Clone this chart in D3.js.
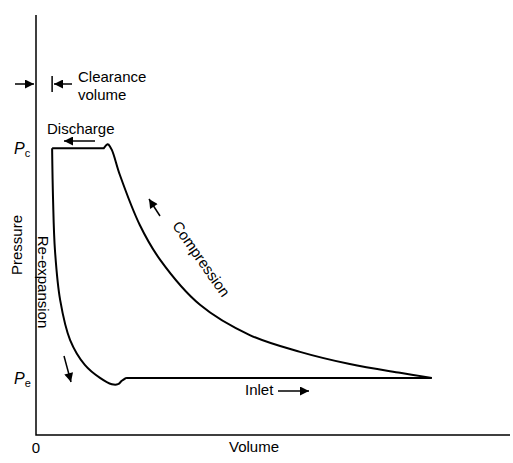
<!DOCTYPE html><html><head><meta charset="utf-8">
<script src="https://cdn.jsdelivr.net/npm/d3@7"></script>
<style>body{margin:0;background:#fff}text{font-family:"Liberation Sans",Arial,sans-serif;font-size:15px}</style></head><body>
<svg id="c" width="513" height="463"></svg>
<script>
const Pc = 68.3, Pe = 13.6, clearance = 3.4;
const discharge = [[3.4,68.3],[14.3,68.3],[14.8,69.0],[15.2,69.3]];
const compression = [[15.2,69.3],[16.0,67.9],[17.7,61.9],[21.9,50.0],[26.2,41.7],[34.6,31.0],[45.1,23.8],[55.7,19.8],[66.2,16.9],[76.8,14.8],[83.5,13.6]];
const reexpansion = [[3.4,68.3],[3.6,56.0],[4.0,44.0],[5.1,32.1],[7.2,22.6],[10.3,16.7],[13.5,13.6],[16.0,12.1],[17.3,12.1],[18.1,12.9],[19.0,13.6]];
const inlet = [[19.0,13.6],[83.5,13.6]];
const svg = d3.select("#c");
const x = d3.scaleLinear().domain([0,100]).range([36,510]);
const y = d3.scaleLinear().domain([0,100]).range([435,15]);
const defs = svg.append("defs");
defs.append("marker").attr("id","ah").attr("viewBox","0 0 10 10").attr("refX",10).attr("refY",5)
 .attr("markerWidth",12).attr("markerHeight",9).attr("markerUnits","userSpaceOnUse").attr("orient","auto")
 .append("path").attr("d","M0,0L10,5L0,10z").attr("fill","#000");
svg.append("path").attr("d",`M${x(0)},${y(100)}V${y(0)}H${x(100)}`).attr("fill","none").attr("stroke","#000").attr("stroke-width",1.5);
const line = d3.line().x(d=>x(d[0])).y(d=>y(d[1]));
const smooth = d3.line().x(d=>x(d[0])).y(d=>y(d[1])).curve(d3.curveCatmullRom);
svg.append("path").attr("d",line(discharge)).attr("fill","none").attr("stroke","#000").attr("stroke-width",2);
svg.append("path").attr("d",smooth(compression)).attr("fill","none").attr("stroke","#000").attr("stroke-width",2);
svg.append("path").attr("d",smooth(reexpansion)).attr("fill","none").attr("stroke","#000").attr("stroke-width",2);
svg.append("path").attr("d",line(inlet)).attr("fill","none").attr("stroke","#000").attr("stroke-width",2);
function arrow(x1,y1,x2,y2){svg.append("line").attr("x1",x1).attr("y1",y1).attr("x2",x2).attr("y2",y2).attr("stroke","#000").attr("stroke-width",1.5).attr("marker-end","url(#ah)");}
function P(sub,py){const t=svg.append("text").attr("x",14).attr("y",py).style("font-size","16px");
 t.append("tspan").attr("font-style","italic").text("P");t.append("tspan").attr("dy",3).style("font-size","11px").text(sub);}
P("c",y(Pc)+6);P("e",y(Pe)+6);
svg.append("text").attr("x",36).attr("y",453).attr("text-anchor","middle").text("0");
svg.append("text").attr("x",254).attr("y",452).attr("text-anchor","middle").text("Volume");
svg.append("text").attr("transform","translate(22,245) rotate(-90)").attr("text-anchor","middle").text("Pressure");
arrow(15,84,34,84);
svg.append("line").attr("x1",x(clearance)).attr("x2",x(clearance)).attr("y1",76).attr("y2",92).attr("stroke","#000").attr("stroke-width",1.5);
arrow(72,84,54,84);
svg.append("text").attr("x",78).attr("y",82).text("Clearance");
svg.append("text").attr("x",78).attr("y",100).text("volume");
svg.append("text").attr("x",47).attr("y",134).text("Discharge");
arrow(95,141,64,141);
svg.append("text").attr("transform","translate(197,262) rotate(55)").attr("text-anchor","middle").text("Compression");
arrow(160,216,149,199);
svg.append("text").attr("transform","translate(38,282) rotate(90)").attr("text-anchor","middle").text("Re-expansion");
arrow(64,356,71,382);
svg.append("text").attr("x",245).attr("y",395).text("Inlet");
arrow(278,391,309,391);
</script></body></html>
